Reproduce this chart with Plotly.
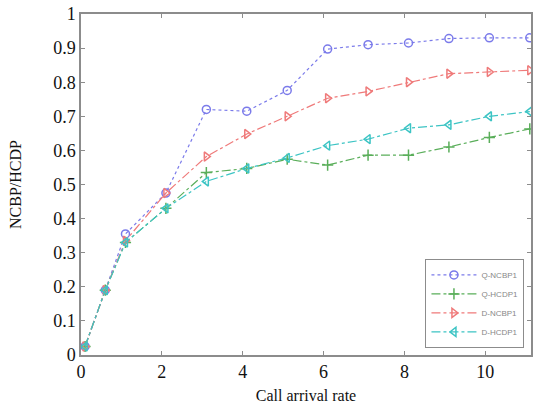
import plotly.graph_objects as go

x_vals = [0.1, 0.6, 1.1, 2.1, 3.1, 4.1, 5.1, 6.1, 7.1, 8.1, 9.1, 10.1, 11.1]
q_ncbp = [0.025, 0.19, 0.355, 0.475, 0.72, 0.715, 0.776, 0.897, 0.91, 0.915, 0.928, 0.93, 0.93]
q_hcdp = [0.025, 0.19, 0.33, 0.43, 0.535, 0.547, 0.574, 0.557, 0.586, 0.586, 0.61, 0.638, 0.663]
d_ncbp = [0.025, 0.19, 0.335, 0.475, 0.582, 0.648, 0.70, 0.753, 0.773, 0.80, 0.825, 0.83, 0.835]
d_hcdp = [0.025, 0.19, 0.33, 0.43, 0.509, 0.547, 0.578, 0.614, 0.633, 0.665, 0.675, 0.70, 0.714]
names = ["Q-NCBP1", "Q-HCDP1", "D-NCBP1", "D-HCDP1"]
colors = ["#7b7bea", "#5aae5a", "#ef7a7a", "#3cc4c4"]
symbols = ["circle-open", "cross-thin-open", "triangle-right-open", "triangle-left-open"]
dashes = ["dot", "dashdot", "dashdot", "dashdot"]

fig = go.Figure()
for ys, nm, c, s, d in zip([q_ncbp, q_hcdp, d_ncbp, d_hcdp], names, colors, symbols, dashes):
    fig.add_trace(go.Scatter(
        x=x_vals, y=ys, name=nm, mode="lines+markers",
        line=dict(color=c, width=1.2, dash=d),
        marker=dict(symbol=s, size=8, color=c, line=dict(color=c, width=1.5)),
    ))

axis_common = dict(
    showgrid=False, zeroline=False, showline=True, linecolor="#8c8c8c", linewidth=1.5,
    mirror="ticks", ticks="inside", ticklen=4, tickcolor="#8c8c8c",
    tickfont=dict(family="Liberation Serif", size=18, color="#111"),
)
fig.update_xaxes(range=[0, 11.13], tickvals=[0, 2, 4, 6, 8, 10],
                 title=dict(text="Call arrival rate", font=dict(family="Liberation Serif", size=16, color="#111"), standoff=8),
                 **axis_common)
fig.update_yaxes(range=[0, 1], dtick=0.1, tickformat="~g",
                 title=dict(text="NCBP/HCDP", font=dict(family="Liberation Serif", size=16, color="#111"), standoff=28),
                 **axis_common)

fig.update_layout(
    width=537, height=410,
    margin=dict(l=81, r=4, t=11, b=55),
    paper_bgcolor="white", plot_bgcolor="white",
    legend=dict(x=0.985, y=0.02, xanchor="right", yanchor="bottom",
                bgcolor="white", bordercolor="#8c8c8c", borderwidth=1.2,
                font=dict(family="Liberation Sans", size=8, color="#888"),
                tracegroupgap=0, itemwidth=45),
    showlegend=True,
)

fig.write_html("out.html")
